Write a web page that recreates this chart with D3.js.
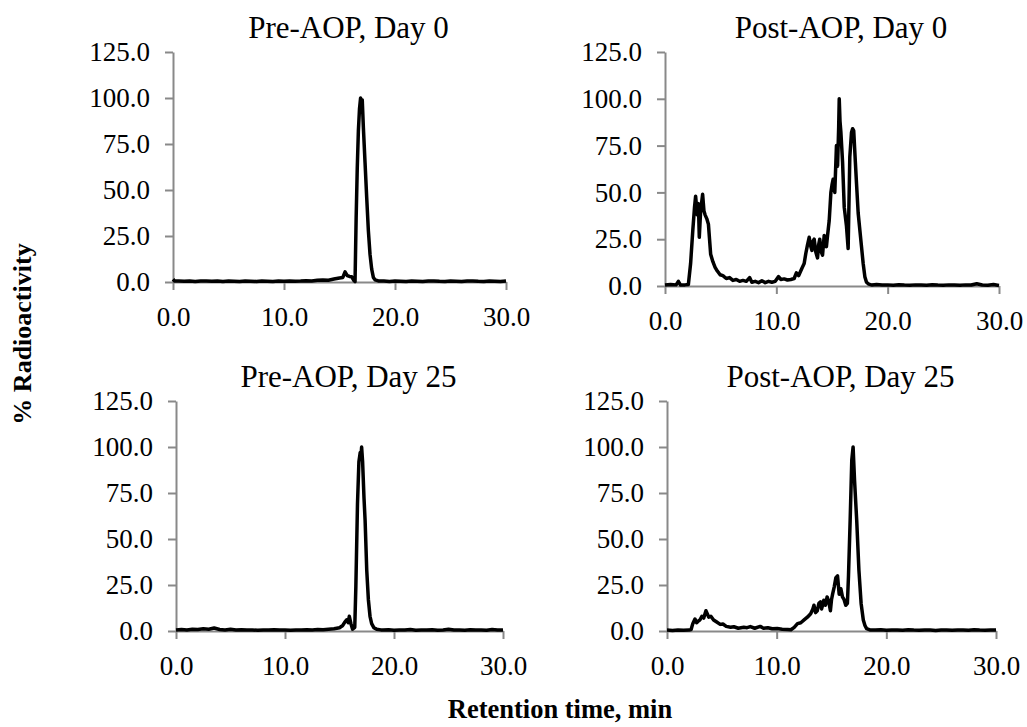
<!DOCTYPE html>
<html>
<head>
<meta charset="utf-8">
<script src="https://cdn.jsdelivr.net/npm/d3@7"></script>
<style>
    body { margin: 0; background: #fff; }
    svg { display: block; }
</style>
</head>
<body>
<div id="chart"></div>
<script>
// chromatogram traces: [retention time (min), % radioactivity]
const preDay0 = [
    [0,1.5],[0.15,0.5],[0.5,0.6],[1,0.4],[1.5,0.5],[2,0.3],[2.5,0.6],[3,0.5],[3.5,0.4],[4,0.5],
    [4.5,0.3],[5,0.5],[5.5,0.4],[6,0.3],[6.5,0.5],[7,0.4],[7.5,0.3],[8,0.5],[8.5,0.4],[9,0.3],
    [9.5,0.5],[10,0.4],[10.5,0.6],[11,0.4],[11.5,0.5],[12,0.7],[12.5,0.6],[13,0.9],[13.5,1.1],[14,1.0],
    [14.5,1.6],[15,2.2],[15.3,2.5],[15.5,5.5],[15.7,3.5],[15.9,3.0],[16.1,2.8],[16.3,0.8],[16.4,0.2],
    [16.5,35],[16.6,62],[16.7,82],[16.8,94],[16.9,100],[16.97,97],[17.05,99],[17.15,84],[17.3,65],
    [17.45,46],[17.6,28],[17.75,15],[17.9,7],[18.05,2.5],[18.2,1.2],[18.5,0.6],[19,0.5],[19.5,0.3],
    [20,0.5],[20.5,0.4],[21,0.3],[21.5,0.5],[22,0.4],[22.5,0.3],[23,0.5],[23.5,0.6],[24,0.4],[24.5,0.3],
    [25,0.5],[25.5,0.4],[26,0.3],[26.5,0.5],[27,0.6],[27.5,0.4],[28,0.3],[28.5,0.5],[29,0.4],[29.5,0.3],[30,0.5]
];

const postDay0 = [
    [0,0.5],[0.5,0.8],[1,0.6],[1.2,2.5],[1.4,0.5],[1.8,0.6],[2.1,0.8],[2.3,12],[2.5,30],[2.65,42],
    [2.75,48],[2.9,38],[3.0,44],[3.08,26],[3.2,40],[3.38,49],[3.5,40],[3.6,38],[3.75,36],[3.9,33],
    [4.0,25],[4.1,17],[4.3,13],[4.5,10],[4.7,8],[4.95,6],[5.2,5.5],[5.5,4],[5.8,4.5],[6.1,3],
    [6.4,3.5],[6.7,2.5],[7.0,3],[7.3,2.5],[7.6,4.5],[7.8,2],[8.1,2.5],[8.4,1.8],[8.7,2.8],[9.0,1.8],
    [9.3,2.5],[9.6,2],[9.9,2.5],[10.2,5],[10.4,3.5],[10.7,3.8],[11.0,3.2],[11.3,3.5],[11.6,4],[11.8,7],
    [12.0,5.5],[12.3,9.5],[12.5,12],[12.65,17.5],[12.8,22],[12.95,26],[13.1,21],[13.2,19],[13.3,24],
    [13.4,25],[13.55,18],[13.7,15],[13.8,22],[13.9,25],[14.05,18],[14.15,16.5],[14.3,27],[14.4,23],
    [14.5,21],[14.6,27],[14.75,35],[14.9,50],[15.0,54],[15.1,57],[15.25,50],[15.4,75],[15.5,64],
    [15.6,85],[15.65,100],[15.72,88],[15.8,82],[15.95,66],[16.1,42],[16.3,32],[16.45,20],[16.6,69],
    [16.75,82],[16.85,84],[16.95,83],[17.1,66],[17.2,55],[17.35,39],[17.5,30],[17.65,21],[17.8,12],
    [17.95,5],[18.1,2],[18.3,1],[18.6,0.5],[19,0.8],[19.5,0.5],[20,0.6],[20.5,0.4],[21,0.7],[21.5,0.5],
    [22,0.4],[22.5,0.6],[23,0.5],[23.5,0.4],[24,0.7],[24.5,0.5],[25,0.4],[25.5,0.6],[26,0.5],[26.5,0.4],
    [27,0.6],[27.5,0.5],[28,1.2],[28.5,0.5],[29,0.4],[29.5,0.8],[30,0.3]
];

const preDay25 = [
    [0,0.5],[0.5,0.8],[1,0.6],[1.5,1.0],[2,0.8],[2.5,1.2],[3,1.0],[3.5,1.6],[4,0.8],[4.5,0.6],
    [5,0.9],[5.5,0.5],[6,0.7],[6.5,0.5],[7,0.6],[7.5,0.4],[8,0.6],[8.5,0.5],[9,0.7],[9.5,0.5],
    [10,0.6],[10.5,0.4],[11,0.6],[11.5,0.5],[12,0.7],[12.5,0.6],[13,0.8],[13.5,0.7],[14,1.0],[14.5,1.2],
    [15,1.8],[15.3,3],[15.5,5],[15.65,6],[15.8,4.5],[15.9,8],[16.05,4],[16.2,1],[16.4,2],[16.5,24],
    [16.65,69],[16.78,92],[16.9,97],[16.97,95],[17.03,100],[17.12,92],[17.25,72],[17.35,60],[17.5,33],
    [17.65,17],[17.8,8],[17.95,4],[18.15,1.8],[18.4,1],[18.8,0.6],[19,0.5],[19.5,0.7],[20,0.4],[20.5,0.6],
    [21,0.5],[21.5,0.8],[22,0.4],[22.5,0.6],[23,0.5],[23.5,0.7],[24,0.4],[24.5,0.6],[25,0.9],[25.5,0.5],
    [26,0.6],[26.5,0.4],[27,0.7],[27.5,0.5],[28,0.6],[28.5,0.4],[29,0.8],[29.5,0.5],[30,0.6]
];

const postDay25 = [
    [0,0.5],[0.5,0.3],[1,0.6],[1.5,0.4],[2.0,0.5],[2.2,0.8],[2.35,4],[2.55,6.5],[2.7,4.5],[2.87,5.5],
    [3.0,6],[3.18,8],[3.35,7],[3.55,11],[3.7,9],[3.8,7.5],[4.0,8],[4.25,6],[4.5,5],[4.85,3.6],
    [5.1,3.8],[5.4,2.5],[5.8,2],[6.1,2.3],[6.5,1.5],[7.0,2],[7.3,1.8],[7.6,2.4],[8.0,1.5],[8.5,2.5],
    [8.8,1.5],[9.2,1.8],[9.6,1.2],[10.05,1.3],[10.5,1.0],[11.0,0.8],[11.3,0.7],[11.6,2],[11.9,4],[12.2,4.5],
    [12.5,6],[12.8,7.5],[13.1,9.4],[13.3,12],[13.4,14],[13.55,10],[13.7,11],[13.85,15],[14.0,15.8],[14.1,12],
    [14.3,16.7],[14.45,14],[14.6,18.5],[14.75,16],[14.9,11],[15.0,17],[15.1,20],[15.25,24],[15.4,29],[15.55,30],
    [15.7,20],[15.85,23],[16.0,18.5],[16.15,17],[16.3,14],[16.45,15],[16.55,30],[16.7,60],[16.85,93],[16.97,100],
    [17.1,82],[17.3,60],[17.5,33],[17.7,15],[17.9,6],[18.05,3],[18.2,1.3],[18.5,0.6],[19,0.5],[19.5,0.7],
    [20,0.4],[20.5,0.6],[21,0.5],[21.5,0.4],[22,0.7],[22.5,0.5],[23,0.4],[23.5,0.6],[24,0.5],[24.5,0.3],
    [25,0.6],[25.5,0.5],[26,0.4],[26.5,0.6],[27,0.5],[27.5,0.4],[28,0.7],[28.5,0.5],[29,0.4],[29.5,0.6],[30,0.5]
];

const panelTitles = ["Pre-AOP, Day 0", "Post-AOP, Day 0", "Pre-AOP, Day 25", "Post-AOP, Day 25"];
const panelData = [preDay0, postDay0, preDay25, postDay25];
const xTicks = [0, 10, 20, 30];
const yTicks = [0, 25, 50, 75, 100, 125];
const xDomain = [0, 30];
const yDomain = [0, 125];
const xTitle = "Retention time, min";
const yTitle = "% Radioactivity";

const boxes = [
    { left: 173, right: 506, top: 52, bottom: 282 },
    { left: 665, right: 999, top: 52, bottom: 286 },
    { left: 176, right: 503, top: 401, bottom: 631 },
    { left: 667, right: 996, top: 401, bottom: 631 }
];

const width = 1027;
const height = 727;
const serif = "'Liberation Serif', 'Times New Roman', serif";
const axisGray = "#898989";

const svg = d3.select("#chart")
    .append("svg")
    .attr("width", width)
    .attr("height", height);

function drawPanel(data, box, title) {
    const x = d3.scaleLinear().domain(xDomain).range([box.left, box.right]);
    const y = d3.scaleLinear().domain(yDomain).range([box.bottom, box.top]);
    const g = svg.append("g");

    const xAxis = g.append("g")
        .attr("transform", "translate(0," + box.bottom + ")")
        .call(d3.axisBottom(x)
            .tickValues(xTicks)
            .tickSize(8)
            .tickSizeOuter(0)
            .tickPadding(17)
            .tickFormat(d3.format(".1f")));

    const yAxis = g.append("g")
        .attr("transform", "translate(" + box.left + ",0)")
        .call(d3.axisLeft(y)
            .tickValues(yTicks)
            .tickSize(8)
            .tickSizeOuter(0)
            .tickPadding(15)
            .tickFormat(d3.format(".1f")));

    [xAxis, yAxis].forEach(function(a) {
        a.select(".domain").attr("stroke", axisGray).attr("stroke-width", 2);
        a.selectAll(".tick line").attr("stroke", axisGray).attr("stroke-width", 2);
        a.selectAll(".tick text")
            .attr("fill", "#000")
            .style("font-family", serif)
            .style("font-size", "27px");
    });

    // trace
    const line = d3.line()
        .x(function(d) { return x(d[0]); })
        .y(function(d) { return y(d[1]); });

    g.append("path")
        .datum(data)
        .attr("d", line)
        .attr("fill", "none")
        .attr("stroke", "#000")
        .attr("stroke-width", 3.5)
        .attr("stroke-linejoin", "round");

    g.append("text")
        .attr("x", (box.left + box.right) / 2 + 9)
        .attr("y", box.top - 14)
        .attr("text-anchor", "middle")
        .style("font-family", serif)
        .style("font-size", "31px")
        .text(title);
}

panelData.forEach(function(d, i) {
    drawPanel(d, boxes[i], panelTitles[i]);
});

// shared axis titles
svg.append("text")
    .attr("transform", "translate(31,334) rotate(-90)")
    .attr("text-anchor", "middle")
    .style("font-family", serif)
    .style("font-size", "26px")
    .style("font-weight", "bold")
    .text(yTitle);

svg.append("text")
    .attr("x", 560)
    .attr("y", 718)
    .attr("text-anchor", "middle")
    .style("font-family", serif)
    .style("font-size", "26.5px")
    .style("font-weight", "bold")
    .text(xTitle);
</script>
</body>
</html>
